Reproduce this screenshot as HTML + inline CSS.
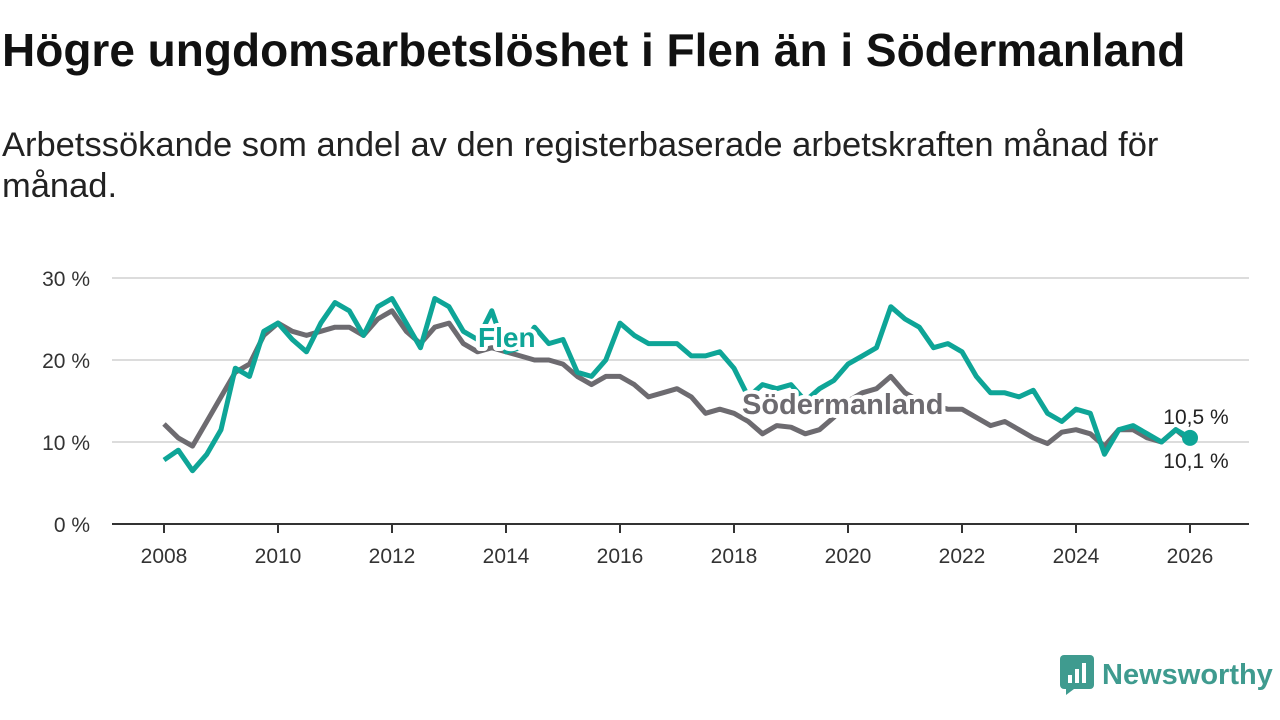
<!DOCTYPE html>
<html><head><meta charset="utf-8"><style>
body{margin:0;width:1280px;height:720px;background:#fff;font-family:"Liberation Sans",sans-serif;overflow:hidden;position:relative}
h1{position:absolute;left:2px;top:23px;margin:0;font-size:46px;font-weight:bold;color:#111;white-space:nowrap}
p.sub{position:absolute;left:2px;top:125px;margin:0;font-size:34.5px;line-height:41px;color:#222;width:1200px}
svg{position:absolute;left:0;top:0}
</style></head><body>
<h1>Högre ungdomsarbetslöshet i Flen än i Södermanland</h1>
<p class="sub">Arbetssökande som andel av den registerbaserade arbetskraften månad för månad.</p>
<svg id="chart" width="1280" height="720"></svg>
<script>
const yearTicks=[2008,2010,2012,2014,2016,2018,2020,2022,2024,2026];
const yTicks=[0,10,20,30];
const startYear=2008;
const stepYears=0.25;
const flen=[7.8,9,6.5,8.5, 11.5,19,18,23.5, 24.5,22.5,21,24.5, 27,26,23,26.5, 27.5,24.5,21.5,27.5, 26.5,23.5,22.5,26, 21,21.5,24,22, 22.5,18.5,18,20, 24.5,23,22,22, 22,20.5,20.5,21, 19,15.5,17,16.5, 17,15,16.5,17.5, 19.5,20.5,21.5,26.5, 25,24,21.5,22, 21,18,16,16, 15.5,16.3,13.5,12.5, 14,13.5,8.5,11.5, 12,11,10,11.5, 10.5];
const sodermanland=[12.2,10.5,9.5,12.5, 15.5,18.5,19.5,23, 24.5,23.5,23,23.5, 24,24,23,25, 26,23.5,22,24, 24.5,22,21,21.5, 21,20.5,20,20, 19.5,18,17,18, 18,17,15.5,16, 16.5,15.5,13.5,14, 13.5,12.5,11,12, 11.8,11,11.5,13, 15,16,16.5,18, 16,15,14.5,14, 14,13,12,12.5, 11.5,10.5,9.8,11.2, 11.5,11,9.5,11.5, 11.5,10.5,10,11.5, 10.1];
const NS="http://www.w3.org/2000/svg";
const svg=document.getElementById('chart');
const xS=y=>164+(y-2008)*57;
const yS=v=>524-v*8.2;
function mk(t,a){const e=document.createElementNS(NS,t);for(const k in a)e.setAttribute(k,a[k]);svg.appendChild(e);return e;}
yTicks.forEach(v=>{
 if(v>0){const g=mk('line',{x1:112,x2:1249,y1:yS(v),y2:yS(v),stroke:'#dcdcdc','stroke-width':2});
 
 }
 const t=mk('text',{x:90,y:yS(v)+8,'text-anchor':'end','font-size':21,fill:'#333'});t.textContent=v+' %';
 
 
});
const ax=mk('line',{x1:112,x2:1249,y1:524,y2:524,stroke:'#333','stroke-width':2});


yearTicks.forEach(y=>{
 mk('line',{x1:xS(y),x2:xS(y),y1:524,y2:533,stroke:'#333','stroke-width':2});
 const t=mk('text',{x:xS(y),y:563,'text-anchor':'middle','font-size':21,fill:'#333'});t.textContent=y;
 
 
});
function line(arr,col,name){
 const d=arr.map((v,i)=>(i?'L':'M')+xS(startYear+i*stepYears).toFixed(1)+','+yS(v).toFixed(1)).join('');
 const p=mk('path',{d:d,fill:'none',stroke:col,'stroke-width':5,'stroke-linejoin':'round'});
 
 
}
line(sodermanland,'#6d6b70','sodermanland-line');
line(flen,'#0ea597','flen-line');
const lastX=xS(startYear+(flen.length-1)*stepYears);
const dot=mk('circle',{cx:lastX,cy:yS(flen[flen.length-1]),r:8,fill:'#0ea597'});


function lab(x,y,txt,col,size,bold,name,anchor){
 const t=mk('text',{x:x,y:y,fill:col,'font-size':size,'font-weight':bold?'bold':'normal',stroke:'#fff','stroke-width':bold?8:5,'paint-order':'stroke','stroke-linejoin':'round','text-anchor':anchor||'start'});
 t.textContent=txt;
 
 
}
lab(478,347,'Flen','#0ea597',28,true,'flen-series-label');
lab(742,414,'Södermanland','#6d6b70',29,true,'sodermanland-series-label');
lab(1196,424,'10,5 %','#222',21,false,'flen-end-value','middle');
lab(1196,468,'10,1 %','#222',21,false,'sodermanland-end-value','middle');
</script>
<div style="position:absolute;left:1060px;top:655px;display:flex;align-items:center;gap:8px">
<svg width="34" height="40" viewBox="0 0 34 40" style="position:static"><rect x="0" y="0" width="34" height="34" rx="4" fill="#3f9b8f"/><path d="M6 34 L6 40 L14 34Z" fill="#3f9b8f"/><rect x="8" y="20" width="4" height="8" fill="#fff"/><rect x="15" y="14" width="4" height="14" fill="#fff"/><rect x="22" y="8" width="4" height="20" fill="#fff"/></svg>
<span style="font-size:29px;color:#3f9b8f;font-weight:bold">Newsworthy</span></div>
</body></html>
